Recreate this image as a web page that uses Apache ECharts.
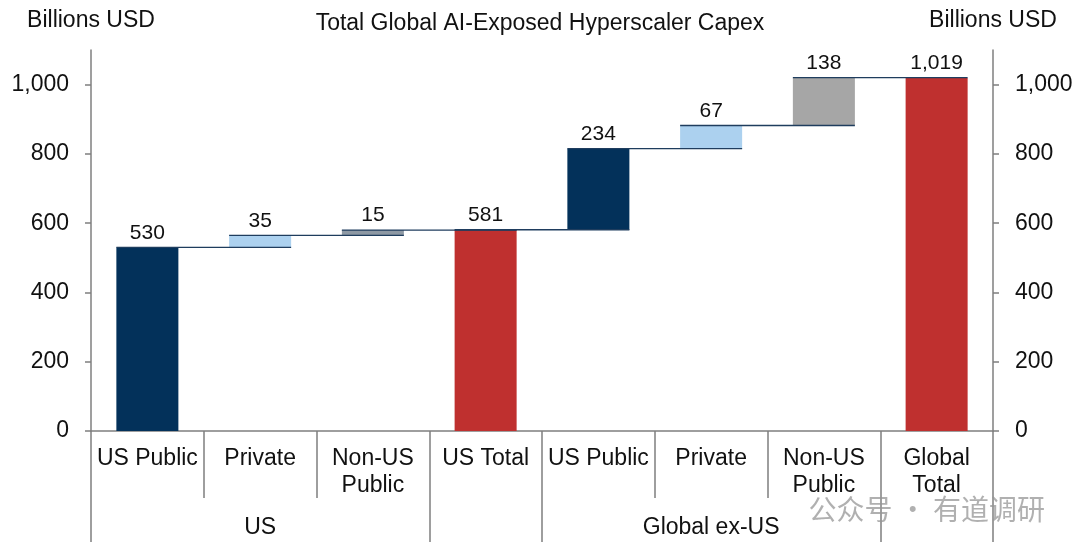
<!DOCTYPE html>
<html>
<head>
<meta charset="utf-8">
<script src="https://cdn.jsdelivr.net/npm/echarts@6/dist/echarts.min.js"></script>
<style>
html,body{margin:0;padding:0;background:#fff;}
#chart{width:1080px;height:554px;}
</style>
</head>
<body>
<div id="chart"></div>
<script>
const categories = ['US Public', 'Private', 'Non-US\nPublic', 'US Total', 'US Public', 'Private', 'Non-US\nPublic', 'Global\nTotal'];
const groupLabels = ['', 'US', '', '', '', 'Global ex-US', '', ''];
const values = [530, 35, 15, 581, 234, 67, 138, 1019];
const isTotal = [false, false, false, true, false, false, false, true];
const barColors = ['#03315a', '#acd1ef', '#8e99a4', '#bf302f', '#03315a', '#acd1ef', '#a6a6a6', '#bf302f'];
const yTicks = [0, 200, 400, 600, 800, 1000];

// waterfall bases and running levels
const bases = [];
const levels = [];
let run = 0;
values.forEach((v, i) => {
  if (isTotal[i]) { bases.push(0); run = v; }
  else { bases.push(run); run += v; }
  levels.push(run);
});
const connectorData = levels.slice(0, levels.length - 1).map((lv, i) => [i, lv]);

const FONT = 'Liberation Sans, Arial, sans-serif';
const fmt = v => Number(v).toLocaleString('en-US');
const BAR_FRAC = 0.55;
const AX = 23;

const chart = echarts.init(document.getElementById('chart'), null, {renderer: 'canvas'});
const yAxisCommon = {
  type: 'value', min: 0, max: 1100, interval: 200,
  name: 'Billions USD', nameLocation: 'end', nameGap: 18,
  nameTextStyle: {fontSize: AX, color: '#111', fontFamily: FONT, align: 'center'},
  axisLine: {show: true, lineStyle: {color: '#7f7f7f', width: 1.5}},
  axisTick: {show: true, length: 6, customValues: yTicks, lineStyle: {color: '#7f7f7f', width: 1.5}},
  axisLabel: {fontSize: AX, color: '#111', fontFamily: FONT, margin: 22, customValues: yTicks, formatter: fmt},
  splitLine: {show: false}
};
chart.setOption({
  animation: false,
  backgroundColor: '#fff',
  title: {
    text: 'Total Global AI-Exposed Hyperscaler Capex', left: 'center', top: 7,
    textStyle: {fontSize: AX, fontWeight: 'normal', color: '#111', fontFamily: FONT}
  },
  grid: {left: 91, right: 87, top: 50, bottom: 123},
  xAxis: [
    {
      type: 'category', data: categories, position: 'bottom',
      axisLine: {show: true, lineStyle: {color: '#7f7f7f', width: 1.5}},
      axisTick: {show: true, length: 67, interval: 0, lineStyle: {color: '#7f7f7f', width: 1.5}},
      axisLabel: {interval: 0, fontSize: AX, lineHeight: 27, color: '#111', fontFamily: FONT, margin: 14}
    },
    {
      type: 'category', data: groupLabels, position: 'bottom', gridIndex: 0,
      axisLine: {show: false},
      axisTick: {show: true, length: 111, interval: (idx) => [0, 3, 4, 7].includes(idx), lineStyle: {color: '#7f7f7f', width: 1.5}},
      axisLabel: {interval: 0, fontSize: AX, lineHeight: 27, color: '#111', fontFamily: FONT, margin: 83}
    }
  ],
  yAxis: [
    Object.assign({}, yAxisCommon, {position: 'left'}),
    Object.assign({}, yAxisCommon, {position: 'right'})
  ],
  graphic: [{
    type: 'text', right: 35, top: 495, z: 100,
    style: {text: '公众号 · 有道调研', fontSize: 28, fill: 'rgba(150,150,150,0.75)', fontFamily: 'Noto Sans CJK SC'}
  }],
  series: [
    {
      type: 'bar', stack: 'w', xAxisIndex: 0, yAxisIndex: 0, barWidth: (BAR_FRAC * 100) + '%',
      itemStyle: {color: 'transparent'}, silent: true, data: bases
    },
    {
      type: 'bar', stack: 'w', xAxisIndex: 0, yAxisIndex: 0, barWidth: (BAR_FRAC * 100) + '%',
      data: values.map((v, i) => ({value: v, itemStyle: {color: barColors[i]}})),
      label: {show: true, position: 'top', distance: 4, fontSize: 21, color: '#111', fontFamily: FONT,
        formatter: p => fmt(p.value)}
    },
    {
      type: 'custom', xAxisIndex: 0, yAxisIndex: 0, z: 5,
      data: connectorData,
      encode: {x: 0, y: 1},
      renderItem: (params, api) => {
        const i = api.value(0), lv = api.value(1);
        const p0 = api.coord([i, lv]);
        const p1 = api.coord([i + 1, lv]);
        const half = api.size([1, 0])[0] * BAR_FRAC / 2;
        return {
          type: 'line',
          shape: {x1: p0[0] - half, y1: p0[1], x2: p1[0] + half, y2: p1[1]},
          style: {stroke: '#1f3d5e', lineWidth: 1.3}
        };
      }
    }
  ]
});
</script>
</body>
</html>
